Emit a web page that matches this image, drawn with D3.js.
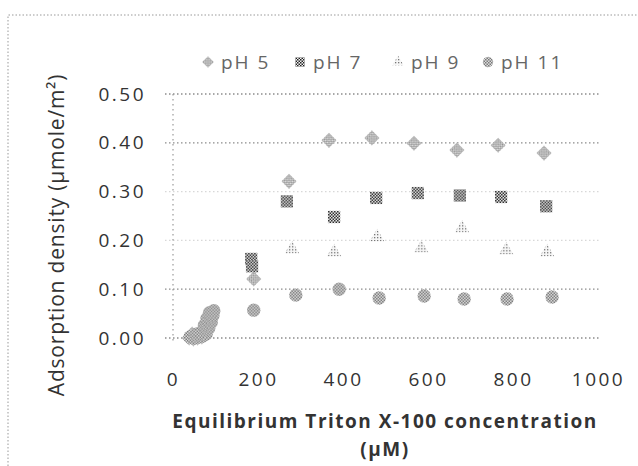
<!DOCTYPE html>
<html>
<head>
<meta charset="utf-8">
<script src="https://cdn.jsdelivr.net/npm/d3@7"></script>
<style>
  body { margin: 0; background: #fff; }
  svg { display: block; font-family: "Open Sans", sans-serif; }
</style>
</head>
<body>
<svg id="chart" width="638" height="466"></svg>
<script>
// Series data (concentration in uM, adsorption in umole/m2)
const seriesNames = ["pH 5", "pH 7", "pH 9", "pH 11"];

const ph5Conc = [38, 48, 58, 68, 45, 62, 190, 273, 367, 468, 567, 668, 765, 873];
const ph5Ads  = [0.000, -0.002, 0.000, 0.002, 0.008, 0.010, 0.121, 0.321, 0.405, 0.410, 0.399, 0.385, 0.395, 0.379];

const ph7Conc = [184, 186, 268, 379, 478, 576, 675, 772, 878];
const ph7Ads  = [0.162, 0.147, 0.280, 0.248, 0.287, 0.297, 0.292, 0.289, 0.270];

const ph9Conc = [280, 379, 480, 584, 680, 784, 880];
const ph9Ads  = [0.182, 0.176, 0.207, 0.184, 0.225, 0.180, 0.176];

const ph11Conc = [40, 50, 60, 70, 78, 55, 66, 76, 84, 74, 82, 90, 80, 88, 94, 86, 96,
                  190, 289, 391, 485, 591, 685, 786, 892];
const ph11Ads  = [0.002, 0.000, 0.002, 0.004, 0.008, 0.008, 0.012, 0.016, 0.020, 0.026, 0.030, 0.032,
                  0.040, 0.042, 0.046, 0.052, 0.056,
                  0.057, 0.088, 0.100, 0.082, 0.086, 0.080, 0.080, 0.084];

// Axis ticks
const xTicks = [0, 200, 400, 600, 800, 1000];
const yTicks = [0, 0.1, 0.2, 0.3, 0.4, 0.5];
const fadedGrid = [0.2, 0.3];

// Legend marker x positions (layout)
const legendX = [208, 300, 398, 488];

const svg = d3.select("#chart");

// Dithered fills to mimic the scanned print
const defs = svg.append("defs");
function checker(id, dark, light, size) {
  const p = defs.append("pattern").attr("id", id)
    .attr("width", size * 2).attr("height", size * 2)
    .attr("patternUnits", "userSpaceOnUse");
  p.append("rect").attr("width", size * 2).attr("height", size * 2).attr("fill", light);
  p.append("rect").attr("width", size).attr("height", size).attr("fill", dark);
  p.append("rect").attr("x", size).attr("y", size).attr("width", size).attr("height", size).attr("fill", dark);
}
checker("pat5", "#8a8a8a", "#e4e4e4", 1.5);
checker("pat7", "#222", "#f2f2f2", 1.5);
checker("pat11", "#7a7a7a", "#dcdcdc", 1.5);
// sparse dots for pH 9
const p9 = defs.append("pattern").attr("id", "pat9")
  .attr("width", 3).attr("height", 3).attr("patternUnits", "userSpaceOnUse");
p9.append("rect").attr("width", 3).attr("height", 3).attr("fill", "#f6f6f6");
p9.append("rect").attr("width", 1.3).attr("height", 1.3).attr("fill", "#777");

// Outer dotted frame from the scanned figure
svg.append("path")
  .attr("d", "M8,466 L8,15 L638,15")
  .attr("fill", "none")
  .attr("stroke", "#999")
  .attr("stroke-dasharray", "1.5,2");

// Scales
const x = d3.scaleLinear().domain([0, 1000]).range([173, 598]);
const y = d3.scaleLinear().domain([0, 0.5]).range([338, 94]);

// Gridlines
svg.append("g")
  .selectAll("line")
  .data(yTicks)
  .join("line")
  .attr("x1", 165)
  .attr("x2", 600)
  .attr("y1", (d) => y(d))
  .attr("y2", (d) => y(d))
  .attr("stroke", (d) => (fadedGrid.includes(d) ? "#d8d8d8" : "#8c8c8c"))
  .attr("stroke-width", 1.3)
  .attr("stroke-dasharray", "1.5,2.5");

// Vertical axis line
svg.append("line")
  .attr("x1", x(0)).attr("x2", x(0))
  .attr("y1", y(0.5)).attr("y2", y(0) + 4)
  .attr("stroke", "#9a9a9a")
  .attr("stroke-width", 1.2)
  .attr("stroke-dasharray", "1.5,3.5");

// Axis labels
const yAxis = d3.axisLeft(y).tickValues(yTicks).tickFormat(d3.format(".2f")).tickSize(0).tickPadding(0);
svg.append("g")
  .attr("transform", "translate(146,0)")
  .call(yAxis)
  .call((g) => g.select(".domain").remove());

const xAxis = d3.axisBottom(x).tickValues(xTicks).tickFormat(d3.format("d")).tickSize(0).tickPadding(0);
svg.append("g")
  .attr("transform", "translate(0,372)")
  .call(xAxis)
  .call((g) => g.select(".domain").remove());

svg.selectAll(".tick text")
  .attr("fill", "#333")
  .style("font-family", "'Open Sans', sans-serif")
  .style("font-size", "19px")
  .style("letter-spacing", "2.5px");

// Markers
const symbolFor = {
  "pH 5": d3.symbolSquare, // drawn rotated 45 degrees
  "pH 7": d3.symbolSquare,
  "pH 9": d3.symbolTriangle,
  "pH 11": d3.symbolCircle,
};
const rotateFor = { "pH 5": 45, "pH 7": 0, "pH 9": 0, "pH 11": 0 };
const sizeFor = { "pH 5": 115, "pH 7": 150, "pH 9": 90, "pH 11": 140 };
const fillFor = { "pH 5": "url(#pat5)", "pH 7": "url(#pat7)", "pH 9": "url(#pat9)", "pH 11": "url(#pat11)" };

const seriesData = [
  { name: "pH 5", xs: ph5Conc, ys: ph5Ads },
  { name: "pH 7", xs: ph7Conc, ys: ph7Ads },
  { name: "pH 9", xs: ph9Conc, ys: ph9Ads },
  { name: "pH 11", xs: ph11Conc, ys: ph11Ads },
];

seriesData.forEach((s) => {
  const pts = s.xs.map((c, i) => [c, s.ys[i]]);
  svg.append("g")
    .selectAll("path")
    .data(pts)
    .join("path")
    .attr("transform", (d) => `translate(${x(d[0])},${y(d[1])}) rotate(${rotateFor[s.name]})`)
    .attr("d", d3.symbol(symbolFor[s.name], sizeFor[s.name]))
    .attr("fill", fillFor[s.name]);
});

// Legend
const legend = svg.append("g").attr("transform", "translate(0,62)");
seriesNames.forEach((name, i) => {
  legend.append("path")
    .attr("transform", `translate(${legendX[i]},0) rotate(${rotateFor[name]})`)
    .attr("d", d3.symbol(symbolFor[name], sizeFor[name] * 0.6))
    .attr("fill", fillFor[name]);
  legend.append("text")
    .attr("x", legendX[i] + 13)
    .attr("y", 0)
    .attr("dy", "0.35em")
    .attr("fill", "#666")
    .style("font-size", "19px")
    .style("letter-spacing", "2px")
    .text(name);
});

// Axis titles
svg.append("text")
  .attr("transform", "translate(57,235) rotate(-90)")
  .attr("text-anchor", "middle")
  .attr("dy", "0.35em")
  .attr("fill", "#333")
  .style("font-size", "21px")
  .style("letter-spacing", "0.8px")
  .text("Adsorption density (\u00b5mole/m\u00b2)");

const xTitle = svg.append("text")
  .attr("text-anchor", "middle")
  .attr("fill", "#333")
  .style("font-size", "19px")
  .style("font-weight", "bold")
  .style("letter-spacing", "1.5px");
xTitle.append("tspan").attr("x", 385).attr("y", 428).text("Equilibrium Triton X-100 concentration");
xTitle.append("tspan").attr("x", 385).attr("y", 456).text("(\u00b5M)");
</script>
</body>
</html>
